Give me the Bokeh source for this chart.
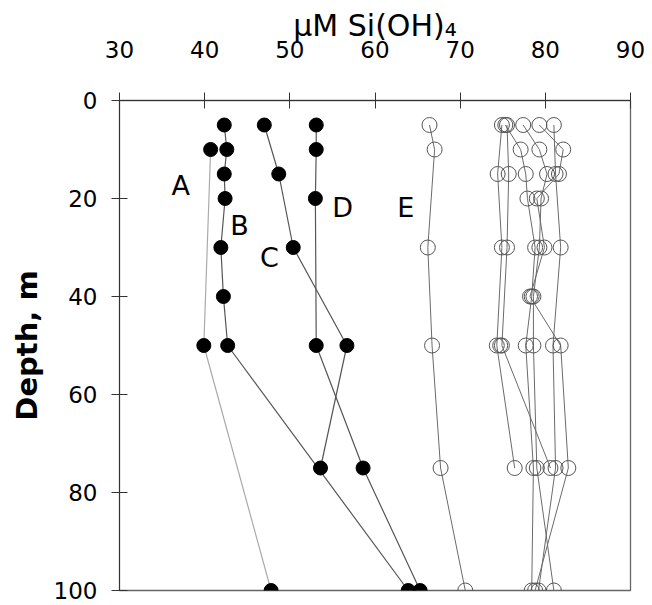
from bokeh.plotting import figure
from bokeh.models import Range1d, FixedTicker
from bokeh.core.properties import value
from bokeh.embed import file_html
from bokeh.resources import INLINE

# ---- data (uM Si(OH)4 vs depth, m) ----
a_depth = [10, 50, 100]
a_si = [40.7, 39.9, 47.8]
b_depth = [5, 10, 15, 20, 30, 40, 50, 100]
b_si = [42.3, 42.6, 42.3, 42.4, 41.9, 42.2, 42.7, 63.9]
c_depth = [5, 15, 30, 50, 75]
c_si = [47.0, 48.7, 50.4, 56.7, 53.6]
d_depth = [5, 10, 20, 50, 75, 100]
d_si = [53.1, 53.1, 53.0, 53.1, 58.6, 65.3]
e_depth = [5, 10, 30, 50, 75, 100]
e_si = [66.4, 67.0, 66.2, 66.7, 67.7, 70.6]

f1_depth = [5, 10, 15, 20, 30, 40, 50, 75, 100]
f1_si = [75.3, 77.1, 77.7, 77.9, 78.8, 78.4, 77.7, 78.6, 78.4]
f2_depth = [5, 10, 15, 20, 30, 40, 50, 75, 100]
f2_si = [77.4, 79.3, 80.2, 79.5, 79.3, 78.6, 78.6, 79.0, 81.0]
f3_depth = [5, 10, 15, 20, 30, 40, 50, 75, 100]
f3_si = [79.3, 82.1, 81.6, 79.0, 79.9, 78.2, 81.8, 82.7, 78.8]
f4_depth = [5, 15, 30, 50, 75, 100]
f4_si = [81.0, 81.2, 81.8, 80.9, 81.2, 79.2]
f5_depth = [5, 15, 30, 50, 75]
f5_si = [74.9, 74.4, 74.9, 74.3, 76.4]
f6_depth = [5, 15, 30, 50, 75]
f6_si = [75.5, 75.7, 75.5, 74.9, 80.6]
f7_depth = [50]
f7_si = [74.7]

profile_names = ["A", "B", "C", "D", "E"]
x_ticks = [30, 40, 50, 60, 70, 80, 90]
y_ticks = [0, 20, 40, 60, 80, 100]

# label placement (data units)
name_x = [37.2, 44.1, 47.6, 56.2, 63.6]
name_y = [17.3, 25.5, 32.0, 21.8, 21.8]

FONT = "DejaVu Sans"

p = figure(width=652, height=605, output_backend="svg", toolbar_location=None,
           x_range=Range1d(30, 90), y_range=Range1d(100, 0),
           x_axis_location="above",
           min_border_left=119, min_border_right=22, min_border_top=100,
           min_border_bottom=15)
p.background_fill_color = "white"
p.border_fill_color = "white"
p.outline_line_color = "#666666"
p.outline_line_width = 1.3
p.grid.visible = False

for ax in (p.xaxis[0], p.yaxis[0]):
    ax.major_tick_in = 8
    ax.major_tick_out = 8
    ax.minor_tick_line_color = None
    ax.axis_line_color = "#333333"
    ax.major_tick_line_color = "#333333"
    ax.major_label_text_font = FONT
    ax.major_label_text_font_size = "23px"
    ax.major_label_text_color = "black"

p.xaxis.ticker = FixedTicker(ticks=x_ticks)
p.yaxis.ticker = FixedTicker(ticks=y_ticks)
p.xaxis.major_label_standoff = 35
p.yaxis.major_label_standoff = 14

p.xaxis.axis_label = "μM Si(OH)₄"
p.xaxis.axis_label_text_font = FONT
p.xaxis.axis_label_text_font_style = "normal"
p.xaxis.axis_label_text_font_size = "30px"
p.xaxis.axis_label_text_color = "black"
p.xaxis.axis_label_standoff = -5

p.yaxis.axis_label = "Depth, m"
p.yaxis.axis_label_text_font = FONT
p.yaxis.axis_label_text_font_style = "bold"
p.yaxis.axis_label_text_font_size = "29px"
p.yaxis.axis_label_text_color = "black"
p.yaxis.axis_label_standoff = 7

# open-circle profiles
open_sets = [(f1_si, f1_depth), (f2_si, f2_depth), (f3_si, f3_depth),
             (f4_si, f4_depth), (f5_si, f5_depth), (f6_si, f6_depth),
             (f7_si, f7_depth), (e_si, e_depth)]
for xs, ys in open_sets:
    if len(xs) > 1:
        p.line(xs, ys, line_color="#6a6a6a", line_width=1)
for xs, ys in open_sets:
    p.scatter(xs, ys, marker="circle", size=15, fill_color=None,
              line_color="#555555", line_width=1)

# filled profiles
p.line(a_si, a_depth, line_color="#aaaaaa", line_width=1.2)
for xs, ys in [(b_si, b_depth), (c_si, c_depth), (d_si, d_depth)]:
    p.line(xs, ys, line_color="#555555", line_width=1.2)
for xs, ys in [(a_si, a_depth), (b_si, b_depth), (c_si, c_depth), (d_si, d_depth)]:
    p.scatter(xs, ys, marker="circle", size=14, fill_color="black",
              line_color="black")

p.text(x=name_x, y=name_y, text=profile_names, text_font=value(FONT),
       text_font_size="27px", text_align="center", text_baseline="middle",
       text_color="black")

open("out.html", "w").write(file_html(p, INLINE))
